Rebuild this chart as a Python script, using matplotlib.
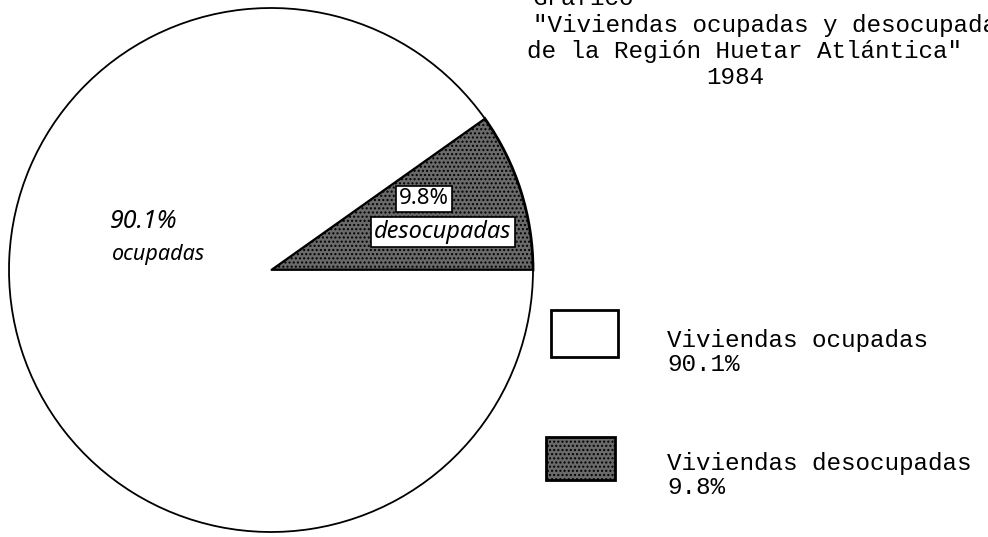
import matplotlib
matplotlib.use("Agg")
import matplotlib.pyplot as plt
from matplotlib.patches import Rectangle

# Data
categories = ["desocupadas", "ocupadas"]
values = [9.8, 90.1]
title_lines = ["Gráfico",
               "\"Viviendas ocupadas y desocupadas",
               "de la Región Huetar Atlántica\"",
               "1984"]

W, H = 988, 537
fig = plt.figure(figsize=(W / 100, H / 100), dpi=100)
ax = fig.add_axes([0, 0, 1, 1])

mono = "Liberation Mono"
fill_colors = ["#6a6a6a", "white"]
plt.rcParams["hatch.linewidth"] = 1.0

wedges, _ = ax.pie(values, startangle=0, counterclock=True,
                   center=(271, H - 270), radius=262,
                   colors=fill_colors,
                   wedgeprops=dict(edgecolor="black", linewidth=1.3))
wedges[0].set_hatch("....")
wedges[0].set_linewidth(2.0)

ax.set_xlim(0, W)
ax.set_ylim(0, H)
ax.set_aspect("equal")
ax.axis("off")

# Title block
ax.text(533, H - 5, title_lines[0], fontsize=17.5, family=mono, ha="left", va="baseline")
ax.text(533, H - 32, title_lines[1], fontsize=17.5, family=mono, ha="left", va="baseline")
ax.text(527, H - 58, title_lines[2], fontsize=17.5, family=mono, ha="left", va="baseline")
ax.text(735, H - 84, title_lines[3], fontsize=17.5, family=mono, ha="center", va="baseline")

# Hand-written labels on the pie
hand = "Noto Sans"
ax.text(110, H - 228, f"{values[1]}%", fontsize=18, family=hand,
        style="italic", ha="left", va="baseline")
ax.text(112, H - 260, categories[1], fontsize=15.5, family=hand,
        style="italic", ha="left", va="baseline")
box = dict(boxstyle="square,pad=0.12", facecolor="white", edgecolor="black", linewidth=1.2)
ax.text(424, H - 199, f"{values[0]}%", fontsize=16, family=hand,
        ha="center", va="center", bbox=box)
ax.text(443, H - 232, categories[0], fontsize=17, family=hand, style="italic",
        ha="center", va="center", bbox=box)

# Legend
legend_boxes = [(551, 310, 67, 47), (546, 437, 69, 43)]
legend_text_y = [(347, 371), (470, 494)]
for i, cat in enumerate(reversed(categories)):
    idx = len(categories) - 1 - i
    x0, y0, w, h = legend_boxes[i]
    rect = Rectangle((x0, H - y0 - h), w, h, facecolor=fill_colors[idx],
                     edgecolor="black", linewidth=2.0,
                     hatch="...." if idx == 0 else None)
    ax.add_patch(rect)
    ax.text(667, H - legend_text_y[i][0], f"Viviendas {cat}", fontsize=17.5,
            family=mono, ha="left", va="baseline")
    ax.text(667, H - legend_text_y[i][1], f"{values[idx]}%", fontsize=17.5,
            family=mono, ha="left", va="baseline")

fig.savefig("out.png", dpi=100, facecolor="white")
